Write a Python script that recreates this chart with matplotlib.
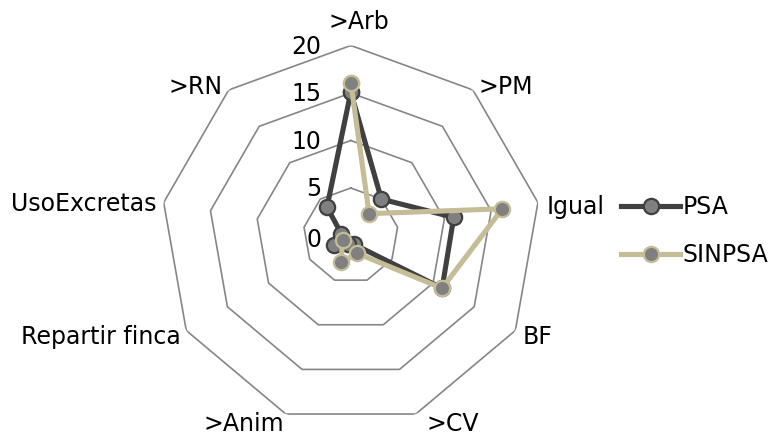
import numpy as np
import matplotlib
matplotlib.use("Agg")
import matplotlib.pyplot as plt
from matplotlib.lines import Line2D

# Categories, clockwise from the top
categories = [">Arb", ">PM", "Igual", "BF", ">CV", ">Anim",
              "Repartir finca", "UsoExcretas", ">RN"]
psa = [15.1, 5.0, 11.0, 11.1, 1.0, 1.0, 2.0, 1.0, 3.9]
sinpsa = [16.1, 3.0, 16.2, 11.1, 2.0, 3.0, 1.0, np.nan, np.nan]
ring_values = [5, 10, 15, 20]
tick_labels = ["0", "5", "10", "15", "20"]
r_max = 20

plt.rcParams["font.family"] = ["DejaVu Sans"]
FS = 17

W, H = 770, 437
fig = plt.figure(figsize=(W / 100, H / 100), dpi=100)
cx, cy, R = 350.8, 235.5, 190.0
ax = fig.add_axes([(cx - R) / W, (H - cy - R) / H, 2 * R / W, 2 * R / H],
                  projection="polar")
ax.set_theta_zero_location("N")
ax.set_theta_direction(-1)
ax.set_ylim(0, r_max)
ax.grid(False)
ax.spines["polar"].set_visible(False)
ax.set_xticks([])
ax.set_yticks([])
ax.patch.set_alpha(0)

n = len(categories)
theta = np.arange(n) * 2 * np.pi / n
theta_c = np.append(theta, theta[0])

# nonagon rings
for v in ring_values:
    ax.plot(theta_c, [v] * (n + 1), color="#868686", lw=1.2, zorder=1)

def closed(vals):
    return np.append(vals, vals[0])

LW = 3.7
MS = 11
ax.plot(theta_c, closed(psa), color="#404040", lw=LW, zorder=3,
        marker="o", markersize=MS, markerfacecolor="#808080",
        markeredgecolor="#404040", markeredgewidth=1.6)
ax.plot(theta_c, closed(sinpsa), color="#C4BD97", lw=LW, zorder=4,
        marker="o", markersize=MS, markerfacecolor="#808080",
        markeredgecolor="#C4BD97", markeredgewidth=1.6)

# radial tick labels along the top axis
for i, lab in enumerate(tick_labels):
    ax.annotate(lab, xy=(0, i * 5), xytext=(-21, -1 if i else -3),
                textcoords="offset points",
                ha="right", va="center", fontsize=FS, color="black", zorder=5)

# category labels placed just outside the outer ring
offsets = {
    ">Arb": (6, 17, "center"),
    ">PM": (4, 2, "left"),
    "Igual": (6, -3, "left"),
    "BF": (5, -5, "left"),
    ">CV": (8, -7, "left"),
    ">Anim": (-1, -7, "right"),
    "Repartir finca": (-4, -5, "right"),
    "UsoExcretas": (-5, -1, "right"),
    ">RN": (-4, 2, "right"),
}
for t, lab in zip(theta, categories):
    dx, dy, ha = offsets[lab]
    ax.annotate(lab, xy=(t, r_max), xytext=(dx, dy), textcoords="offset points",
                ha=ha, va="center", fontsize=FS, color="black")

handles = [
    Line2D([], [], color="#404040", lw=LW, marker="o", markersize=MS,
           markerfacecolor="#808080", markeredgecolor="#404040",
           markeredgewidth=1.6),
    Line2D([], [], color="#C4BD97", lw=LW, marker="o", markersize=MS,
           markerfacecolor="#808080", markeredgecolor="#C4BD97",
           markeredgewidth=1.6),
]
fig.legend(handles, ["PSA", "SINPSA"], loc="center left",
           bbox_to_anchor=(621 / W, 1 - 231 / H), frameon=False,
           fontsize=FS, handlelength=2.5, handletextpad=0.1,
           labelspacing=1.0, borderpad=0, borderaxespad=0)

fig.savefig("out.png", dpi=100)
